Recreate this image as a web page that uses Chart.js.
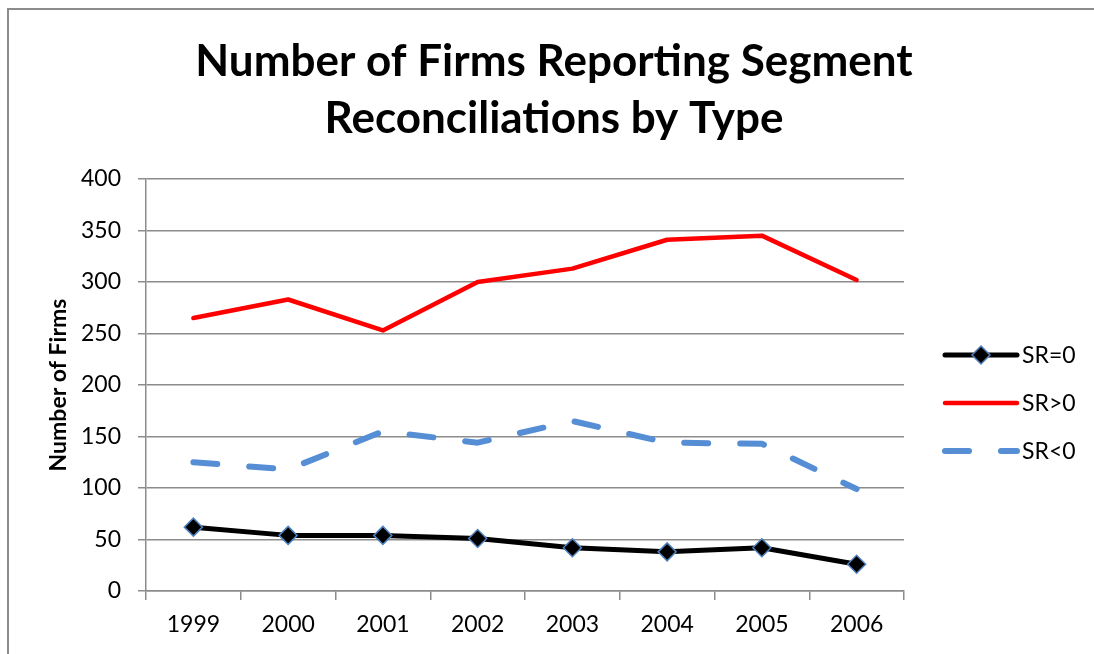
<!DOCTYPE html>
<html lang="en">
<head>
  <meta charset="UTF-8">
  <title>Number of Firms Reporting Segment Reconciliations by Type</title>
  <script src="https://cdn.jsdelivr.net/npm/chart.js"></script>
  <style>
    html, body { margin: 0; padding: 0; overflow: hidden; background: #fff; }
    canvas { display: block; }
  </style>
</head>
<body>
  <canvas id="firmsChart" width="1094" height="654"></canvas>

  <script>
    const years = ['1999', '2000', '2001', '2002', '2003', '2004', '2005', '2006'];
    const srZero = [62, 54, 54, 51, 42, 38, 42, 26];
    const srPositive = [265, 283, 253, 300, 313, 341, 345, 302];
    const srNegative = [125, 118, 155, 144, 165, 144, 143, 99];
    const yTicks = [0, 50, 100, 150, 200, 250, 300, 350, 400];

    const FONT = 'Lato, "Open Sans", sans-serif';
    const GRID = '#8c8c8c';

    // frame around the whole chart
    const framePlugin = {
      id: 'frame',
      beforeDraw(chart) {
        const ctx = chart.ctx;
        ctx.save();
        ctx.fillStyle = '#fff';
        ctx.fillRect(0, 0, chart.width, chart.height);
        ctx.strokeStyle = '#8c8c8c';
        ctx.lineWidth = 2;
        ctx.beginPath();
        ctx.moveTo(8, 700);
        ctx.lineTo(8, 9);
        ctx.lineTo(1100, 9);
        ctx.stroke();
        ctx.restore();
      }
    };

    // legend drawn by hand so the line samples look like the original
    const sideLegend = {
      id: 'sideLegend',
      afterDraw(chart) {
        const ctx = chart.ctx;
        const x0 = 945, x1 = 1017;
        chart.data.datasets.forEach((ds, i) => {
          const y = 355 + i * 48;
          ctx.save();
          ctx.strokeStyle = ds.borderColor;
          ctx.lineWidth = ds.borderWidth;
          ctx.lineCap = 'round';
          ctx.setLineDash(ds.borderDash || []);
          ctx.beginPath();
          ctx.moveTo(x0, y);
          ctx.lineTo(x1, y);
          ctx.stroke();
          ctx.setLineDash([]);
          if (ds.pointRadius > 0) {
            const r = ds.pointRadius;
            const cx = (x0 + x1) / 2;
            ctx.beginPath();
            ctx.moveTo(cx, y - r);
            ctx.lineTo(cx + r, y);
            ctx.lineTo(cx, y + r);
            ctx.lineTo(cx - r, y);
            ctx.closePath();
            ctx.fillStyle = ds.pointBackgroundColor;
            ctx.fill();
            ctx.strokeStyle = ds.pointBorderColor;
            ctx.lineWidth = ds.pointBorderWidth;
            ctx.stroke();
          }
          ctx.fillStyle = '#000';
          ctx.font = '23px ' + FONT;
          ctx.textBaseline = 'middle';
          ctx.textAlign = 'left';
          ctx.fillText(ds.label, 1022, y + 1);
          ctx.restore();
        });
      }
    };

    const ctx = document.getElementById('firmsChart').getContext('2d');
    new Chart(ctx, {
      type: 'line',
      data: {
        labels: years,
        datasets: [
          {
            label: 'SR=0',
            data: srZero,
            borderColor: '#000',
            borderWidth: 5,
            pointStyle: 'rectRot',
            pointRadius: 9,
            pointBackgroundColor: '#000',
            pointBorderColor: '#4f81bd',
            pointBorderWidth: 1.5,
            borderJoinStyle: 'round',
            borderCapStyle: 'round',
            tension: 0
          },
          {
            label: 'SR>0',
            data: srPositive,
            borderColor: '#ff0000',
            borderWidth: 4.5,
            pointRadius: 0,
            borderJoinStyle: 'round',
            borderCapStyle: 'round',
            tension: 0
          },
          {
            label: 'SR<0',
            data: srNegative,
            borderColor: '#558ed5',
            borderWidth: 6,
            borderDash: [24, 32],
            pointRadius: 0,
            borderJoinStyle: 'round',
            borderCapStyle: 'round',
            tension: 0
          }
        ]
      },
      options: {
        responsive: false,
        animation: false,
        layout: { padding: { left: 14, top: 0, right: 0, bottom: 0 } },
        plugins: {
          legend: { display: false },
          tooltip: { enabled: false },
          title: {
            display: true,
            text: ['Number of Firms Reporting Segment', 'Reconciliations by Type'],
            color: '#000',
            font: { family: FONT, size: 44, weight: 'bold', lineHeight: '57px' },
            padding: { top: 33, bottom: 32 }
          }
        },
        scales: {
          x: {
            offset: true,
            grid: {
              offset: true,
              drawOnChartArea: false,
              drawTicks: true,
              tickLength: 9,
              color: GRID,
              lineWidth: 1.5
            },
            border: { color: GRID, width: 1.5 },
            ticks: {
              color: '#000',
              font: { family: FONT, size: 23 },
              padding: 11
            },
            afterFit(scale) { scale.height = 63; }
          },
          y: {
            min: 0,
            max: 400,
            afterBuildTicks(scale) { scale.ticks = yTicks.map(v => ({ value: v })); },
            grid: { color: GRID, lineWidth: 1.5, tickLength: 8 },
            border: { color: GRID, width: 1.5 },
            ticks: {
              color: '#000',
              font: { family: FONT, size: 23 },
              padding: 17
            },
            title: {
              display: true,
              text: 'Number of Firms',
              color: '#000',
              font: { family: FONT, size: 23, weight: 'bold' },
              padding: { top: 31, bottom: 0 }
            },
            afterFit(scale) { scale.width = 132; }
          },
          y2: {
            position: 'right',
            display: true,
            grid: { display: false },
            border: { display: false },
            ticks: { display: false },
            afterFit(scale) { scale.width = 190; }
          }
        }
      },
      plugins: [framePlugin, sideLegend]
    });
  </script>
</body>
</html>
